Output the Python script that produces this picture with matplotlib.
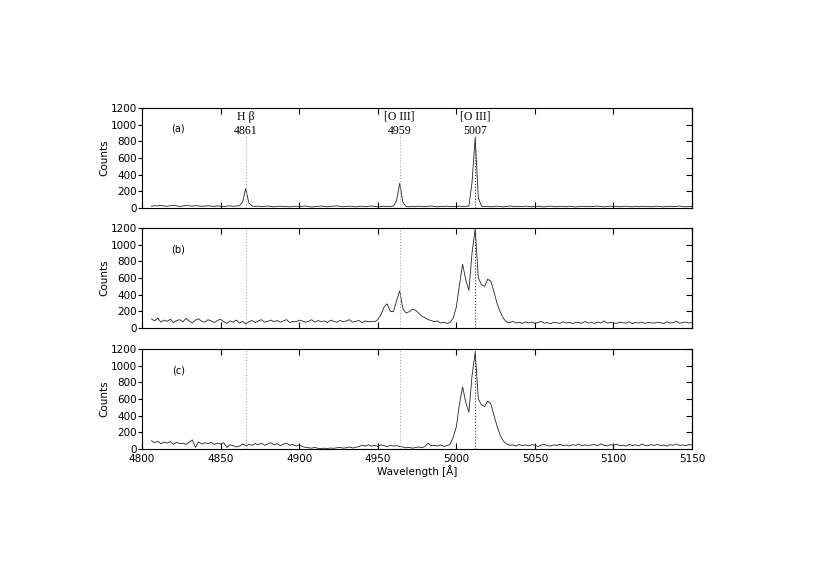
import numpy as np
import matplotlib
matplotlib.use("Agg")
import matplotlib.pyplot as plt

# wavelength grid of the extracted spectra [A]
wave_start = 4806
wave_step = 2

# rest wavelengths of the lines and their observed positions
line_names = ["H \u03b2", "[O III]", "[O III]"]
line_rest = ["4861", "4959", "5007"]
line_obs = [4866, 4964, 5012]
line_colors = ["#aaaaaa", "#aaaaaa", "#333333"]

# (a) narrow line spectrum
counts_a = [
    22, 28, 25, 31, 24, 20, 27, 33, 25, 18,
    24, 30, 26, 22, 28, 25, 20, 23, 27, 22,
    18, 25, 21, 17, 22, 26, 20, 24, 28, 70,
    232, 60, 24, 18, 22, 15, 20, 24, 17, 14,
    19, 22, 16, 20, 13, 18, 22, 15, 19, 24,
    17, 12, 16, 20, 23, 18, 14, 19, 22, 26,
    20, 15, 18, 22, 17, 13, 19, 21, 16, 20,
    24, 18, 14, 17, 21, 16, 19, 22, 90, 296,
    70, 18, 14, 20, 16, 22, 19, 15, 21, 24,
    18, 14, 20, 17, 22, 16, 19, 15, 23, 18,
    20, 24, 310, 840, 120, 22, 16, 20, 14, 18,
    22, 17, 13, 19, 24, 18, 15, 20, 16, 22,
    19, 14, 18, 21, 16, 13, 19, 23, 17, 15,
    20, 18, 14, 22, 17, 12, 18, 21, 16, 19,
    15, 20, 23, 17, 13, 18, 22, 16, 20, 14,
    18, 22, 17, 13, 19, 16, 21, 15, 18, 14,
    19, 22, 16, 13, 18, 21, 15, 19, 23, 17,
    14, 19, 16,
]

# (b) broad component spectrum
counts_b = [
    110, 85, 120, 70, 95, 80, 105, 65, 90, 100,
    75, 115, 85, 60, 95, 110, 80, 70, 100, 85,
    65, 90, 105, 75, 55, 85, 70, 95, 60, 80,
    50, 75, 90, 65, 85, 100, 70, 80, 95, 75,
    90, 70, 85, 100, 65, 80, 75, 95, 85, 70,
    80, 100, 70, 90, 75, 85, 65, 95, 80, 70,
    90, 75, 85, 100, 70, 80, 90, 65, 85, 75,
    80, 75, 100, 160, 250, 290, 200, 195, 330, 445,
    230, 180, 195, 225, 215, 180, 140, 125, 100, 90,
    75, 85, 60, 70, 55, 65, 120, 250, 520, 765,
    580, 450, 900, 1190, 600, 520, 500, 585, 560, 430,
    290, 190, 115, 70, 65, 80, 60, 70, 55, 75,
    60, 72, 55, 68, 80, 58, 65, 50, 70, 62,
    55, 75, 60, 68, 52, 70, 64, 58, 78, 60,
    66, 54, 72, 60, 85, 58, 68, 62, 55, 70,
    64, 58, 75, 52, 66, 60, 72, 55, 68, 62,
    58, 70, 64, 52, 75, 60, 66, 82, 58, 65,
    70, 60, 66,
]

# (c) residual spectrum
counts_c = [
    100, 75, 95, 60, 85, 70, 90, 55, 80, 65,
    70, 55, 80, 110, 20, 85, 60, 75, 65, 80,
    55, 70, 60, 75, 20, 50, 40, 25, 35, 60,
    40, 55, 45, 65, 50, 70, 45, 60, 75, 50,
    65, 40, 60, 70, 45, 55, 35, 50, 30, 20,
    15, 10, 20, 8, 5, 10, 6, 12, 8, 15,
    20, 10, 15, 25, 12, 20, 30, 45, 35, 50,
    35, 45, 30, 50, 40, 28, 45, 35, 40, 30,
    25, 15, 20, 10, 18, 25, 15, 30, 70, 40,
    45, 35, 50, 30, 40, 55, 140, 265, 540, 745,
    560, 440, 880, 1160, 600, 530, 510, 575, 540, 400,
    270, 160, 95, 60, 45, 50, 35, 55, 40, 50,
    38, 52, 45, 30, 48, 55, 42, 35, 50, 44,
    58, 40, 47, 36, 52, 45, 60, 38, 50, 42,
    48, 55, 40, 62, 45, 38, 52, 44, 58, 40,
    46, 35, 55, 42, 50, 38, 60, 45, 40, 52,
    44, 56, 40, 48, 35, 52, 46, 60, 42, 50,
    38, 55, 45,
]

panel_labels = ["(a)", "(b)", "(c)"]
x_ticks = [4800, 4850, 4900, 4950, 5000, 5050, 5100, 5150]
y_ticks = [0, 200, 400, 600, 800, 1000, 1200]


fig = plt.figure(figsize=(8.19, 5.79), dpi=100)

# panel rectangles, top to bottom
left, width, height = 0.1734, 0.6716, 0.1727
bottoms = [0.6408, 0.4335, 0.2245]

spectra = [counts_a, counts_b, counts_c]
for k, counts in enumerate(spectra):
    ax = fig.add_axes([left, bottoms[k], width, height])
    wave = wave_start + wave_step * np.arange(len(counts))
    ax.plot(wave, counts, color="#222222", lw=0.6)

    # line markers: short in (a) so the labels fit above them
    for j, lam in enumerate(line_obs):
        top = 860 if k == 0 else 1200
        ax.vlines(lam, 0, top, colors=line_colors[j], linestyles=":", lw=0.8)
        if k == 0:
            ax.text(lam, 1096, line_names[j], ha="center", va="center",
                    family="Liberation Serif", fontsize=8.5)
            ax.text(lam, 928, line_rest[j], ha="center", va="center",
                    family="Liberation Serif", fontsize=8.5)

    ax.text(4823, 948, panel_labels[k], ha="center", va="center", fontsize=7)

    ax.set_xlim(4800, 5150)
    ax.set_ylim(0, 1200)
    ax.set_xticks(x_ticks)
    ax.set_yticks(y_ticks)
    ax.tick_params(axis="x", direction="in", top=True, length=4, labelsize=7.5)
    ax.tick_params(axis="y", direction="out", length=3, labelsize=7.5, pad=0.5)
    right = ax.secondary_yaxis("right")
    right.set_yticks(y_ticks)
    right.tick_params(direction="in", length=4, labelright=False)
    ax.set_ylabel("Counts", fontsize=7.5, labelpad=1)
    if k < 2:
        ax.tick_params(axis="x", labelbottom=False)
    else:
        ax.set_xlabel("Wavelength [\u00c5]", fontsize=7.5, labelpad=1)

plt.savefig("out.png", dpi=100)
plt.close(fig)
